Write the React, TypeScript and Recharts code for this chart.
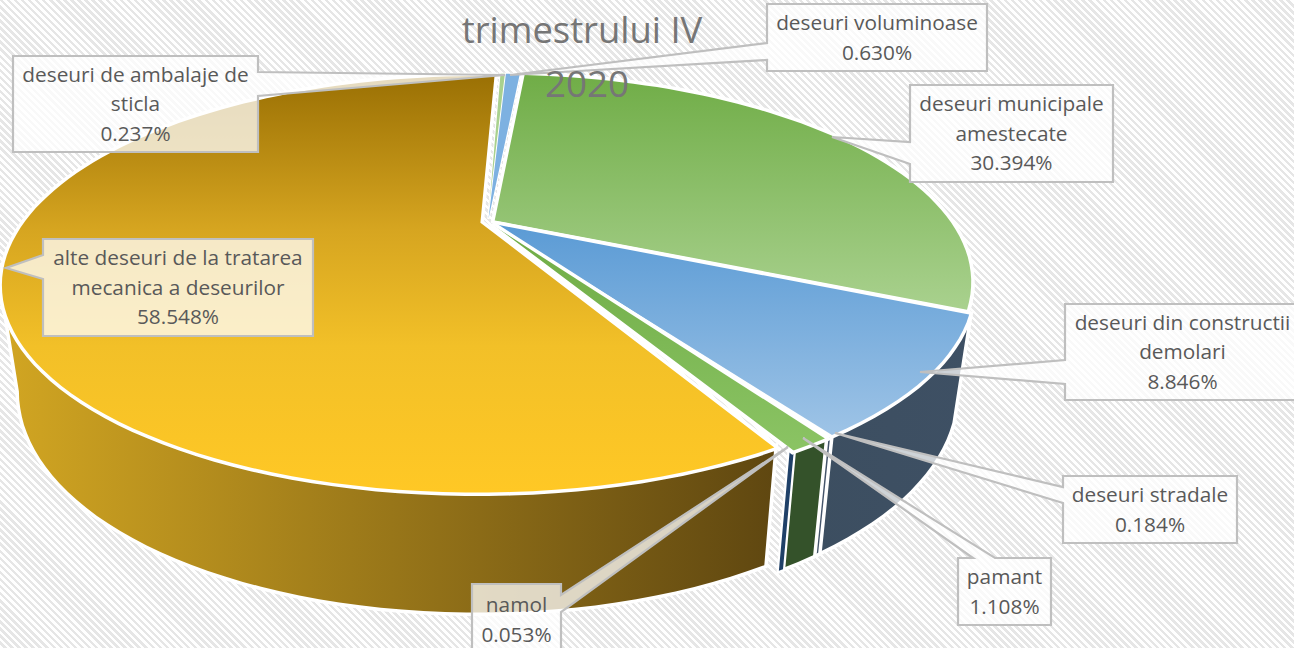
import React from "react";
import { PieChart, Pie } from "recharts";

const CATEGORIES = [
  "alte deseuri de la tratarea mecanica a deseurilor",
  "deseuri de ambalaje de sticla",
  "deseuri voluminoase",
  "deseuri municipale amestecate",
  "deseuri din constructii demolari",
  "deseuri stradale",
  "pamant",
  "namol",
];
const VALUES = [58.548, 0.237, 0.63, 30.394, 8.846, 0.184, 1.108, 0.053];
const TITLE_LINES = ["trimestrului IV", "2020"];

const chartData = CATEGORIES.map((name, i) => ({ name, value: VALUES[i] }));

// Perspective used to lay the circular pie geometry down as a tilted disc
const PERSPECTIVE = 0.295;
const TILT = 0.416;
const EXPLODE = 0.017;
const LOWER_SCALE = 0.965;
const WRAP = 27;

const TOP_STOPS = [
  [[0, "#9a7004"], [0.37, "#d6a520"], [0.65, "#f2c028"], [1, "#ffc825"]],
  [[0, "#a9d18e"], [1, "#a9d18e"]],
  [[0, "#7db1e1"], [1, "#7db1e1"]],
  [[0, "#70ad47"], [1, "#a9d18e"]],
  [[0, "#5b9bd5"], [1, "#9dc3e6"]],
  [[0, "#ffffff"], [1, "#ffffff"]],
  [[0, "#70ad47"], [1, "#8ac363"]],
  [[0, "#ffffff"], [1, "#ffffff"]],
];
const TOP_RANGE = [
  [75, 492],
  [70, 100],
  [70, 100],
  [75, 310],
  [225, 432],
  [240, 445],
  [240, 445],
  [240, 445],
];
const SIDE_COLORS = [
  ["#d2a622", "#5d4510"],
  ["#7f9f6a", "#7f9f6a"],
  ["#3f5064", "#3f5064"],
  ["#4f7a33", "#4f7a33"],
  ["#3c4e60", "#3e5064"],
  ["#44546a", "#44546a"],
  ["#34522a", "#34522a"],
  ["#1f4068", "#1f4068"],
];

const CALLOUTS = [
  { x: 43, y: 239, w: 270, h: 97, side: "left", a: 255, b: 279, tip: [6, 268] },
  { x: 13, y: 56, w: 245, h: 96, side: "right", a: 72, b: 96, tip: [505, 75] },
  { x: 767, y: 4, w: 220, h: 67, side: "left", a: 43, b: 60, tip: [510, 75] },
  { x: 910, y: 85, w: 203, h: 97, side: "left", a: 142, b: 164, tip: [832, 137] },
  { x: 1065, y: 304, w: 235, h: 96, side: "left", a: 360, b: 384, tip: [920, 372] },
  { x: 1063, y: 476, w: 174, h: 67, side: "left", a: 487, b: 503, tip: [835, 433] },
  { x: 958, y: 558, w: 93, h: 67, side: "top", a: 973, b: 995, tip: [803, 438] },
  { x: 472, y: 584, w: 89, h: 71, side: "right", a: 595, b: 612, tip: [788, 447] },
];

const rad = (d: number) => (d * Math.PI) / 180;

function project(cx: number, cy: number, R: number, u: number, v: number) {
  const k = 1 + PERSPECTIVE * v;
  return [cx + (R * u) / k, cy - (R * TILT * v) / k];
}

function rimPoints(p: any, from: number, to: number, depth: boolean) {
  const mid = (90 - p.startAngle + (90 - p.endAngle)) / 2;
  const ou = EXPLODE * Math.sin(rad(mid));
  const ov = EXPLODE * Math.cos(rad(mid));
  const n = Math.max(2, Math.ceil(Math.abs(to - from) / 2));
  const pts: number[][] = [];
  for (let i = 0; i <= n; i++) {
    const t = from + ((to - from) * i) / n;
    const q = project(p.cx, p.cy, p.outerRadius, ou + Math.sin(rad(t)), ov + Math.cos(rad(t)));
    if (depth) {
      q[0] = p.cx + (q[0] - p.cx) * LOWER_SCALE;
      q[1] += 100 - 20 * Math.cos(rad(t));
    }
    pts.push(q);
  }
  return { pts, apex: project(p.cx, p.cy, p.outerRadius, ou, ov) };
}

const toPath = (pts: number[][]) =>
  "M" + pts.map((q) => `${q[0].toFixed(1)},${q[1].toFixed(1)}`).join("L") + "Z";

// Recharts hands the shape angles measured from 3 o'clock; normalise to clockwise from 12.
function clockAngles(p: any) {
  const a = 90 - p.startAngle;
  const b = 90 - p.endAngle;
  return [a, b];
}

function TopFace(p: any) {
  const [a, b] = clockAngles(p);
  const { pts, apex } = rimPoints(p, a, b, false);
  const i = p.index ?? CATEGORIES.indexOf(p.name);
  const thin = VALUES[i] < 1;
  return (
    <path
      d={toPath([apex, ...pts])}
      fill={`url(#top${i})`}
      stroke="#fff"
      strokeWidth={thin ? 2 : 7}
      strokeLinejoin="miter"
      style={{ paintOrder: "stroke" }}
    />
  );
}

function visibleRange(a: number, b: number) {
  // the part of a slice's rim that faces the viewer: 107.5deg to 252.5deg from 12 o'clock
  for (const shift of [0, -360, 360]) {
    const lo = Math.max(a + shift, 107.5);
    const hi = Math.min(b + shift, 252.5);
    if (hi > lo) return [lo - shift, hi - shift];
  }
  return null;
}

function SideFace(p: any) {
  const [a, b] = clockAngles(p);
  const r = visibleRange(a, b);
  if (!r) return <g />;
  const upper = rimPoints(p, r[0], r[1], false).pts;
  const lower = rimPoints(p, r[0], r[1], true).pts.reverse();
  const d = toPath([...upper, ...lower]);
  const i = p.index ?? CATEGORIES.indexOf(p.name);
  return (
    <g>
      <path d={d} fill="#fff" stroke="#fff" strokeWidth={7} />
      <path d={d} fill={`url(#side${i})`} stroke={SIDE_COLORS[i][0]} strokeWidth={VALUES[i] < 0.1 ? 2.5 : 0} />
    </g>
  );
}

function wrap(text: string) {
  const lines: string[] = [];
  let cur = "";
  for (const w of text.split(" ")) {
    if (cur && (cur + " " + w).length > WRAP) {
      lines.push(cur);
      cur = w;
    } else cur = cur ? cur + " " + w : w;
  }
  lines.push(cur);
  return lines;
}

function calloutPath(c: any) {
  const r = c.x + c.w;
  const bt = c.y + c.h;
  const t = `${c.tip[0]},${c.tip[1]}`;
  if (c.side === "left")
    return `M${c.x},${c.y}H${r}V${bt}H${c.x}V${c.b}L${t}L${c.x},${c.a}Z`;
  if (c.side === "right")
    return `M${c.x},${c.y}H${r}V${c.a}L${t}L${r},${c.b}V${bt}H${c.x}Z`;
  return `M${c.x},${c.y}H${c.a}L${t}L${c.b},${c.y}H${r}V${bt}H${c.x}Z`;
}

function Callout(p: any) {
  const i = p.index;
  const c = CALLOUTS[i];
  const lines = [...wrap(CATEGORIES[i]), VALUES[i].toFixed(3) + "%"];
  const mid = c.y + c.h / 2;
  return (
    <g>
      <path d={calloutPath(c)} fill="#ffffff" fillOpacity={0.75} stroke="#bfbfbf" strokeWidth={2.2} />
      {lines.map((l, k) => (
        <text
          key={k}
          x={c.x + c.w / 2}
          y={mid + (k - (lines.length - 1) / 2) * 29.5}
          dy="0.35em"
          textAnchor="middle"
          fontFamily="'Open Sans', sans-serif"
          fontSize={20.8}
          fill="#595959"
        >
          {l}
        </text>
      ))}
    </g>
  );
}

const PIE_START = 88 - (360 * (100 - VALUES[0])) / 100;

export default function App() {
  return (
    <div
      style={{
        position: "absolute",
        left: 0,
        top: 0,
        width: 1294,
        height: 648,
        overflow: "hidden",
        background: "repeating-linear-gradient(45deg,#ffffff 0 2.5px,#e6e6e6 2.5px 5px)",
      }}
    >
      <PieChart width={1294} height={648} margin={{ top: 0, right: 0, bottom: 0, left: 0 }}>
        <defs>
          {TOP_STOPS.map((stops, i) => (
            <linearGradient key={i} id={`top${i}`} gradientUnits="userSpaceOnUse" x1="0" x2="0" y1={TOP_RANGE[i][0]} y2={TOP_RANGE[i][1]}>
              {stops.map((s: any, k: number) => (
                <stop key={k} offset={s[0]} stopColor={s[1]} />
              ))}
            </linearGradient>
          ))}
          {SIDE_COLORS.map((c, i) => (
            <linearGradient key={i} id={`side${i}`} gradientUnits="userSpaceOnUse" x1={i === 0 ? 0 : 800} x2={i === 0 ? 790 : 980} y1="0" y2="0">
              <stop offset="0" stopColor={c[0]} />
              <stop offset="1" stopColor={c[1]} />
            </linearGradient>
          ))}
        </defs>
        <Pie
          data={chartData}
          dataKey="value"
          nameKey="name"
          cx={488}
          cy={222}
          outerRadius={456}
          startAngle={PIE_START}
          endAngle={PIE_START - 360}
          isAnimationActive={false}
          shape={SideFace}
          label={false}
          labelLine={false}
        />
        <Pie
          data={chartData}
          dataKey="value"
          nameKey="name"
          cx={488}
          cy={222}
          outerRadius={456}
          startAngle={PIE_START}
          endAngle={PIE_START - 360}
          isAnimationActive={false}
          shape={TopFace}
          label={Callout}
          labelLine={false}
        />
      </PieChart>
      <svg width={1294} height={648} style={{ position: "absolute", left: 0, top: 0, pointerEvents: "none" }}>
        <text x={582} y={43} textAnchor="middle" fontFamily="'Open Sans', sans-serif" fontSize={36.4} fill="#767676">
          {TITLE_LINES[0]}
        </text>
        <text x={587} y={97} textAnchor="middle" fontFamily="'Open Sans', sans-serif" fontSize={36.8} fill="#767676">
          {TITLE_LINES[1]}
        </text>
      </svg>
    </div>
  );
}
